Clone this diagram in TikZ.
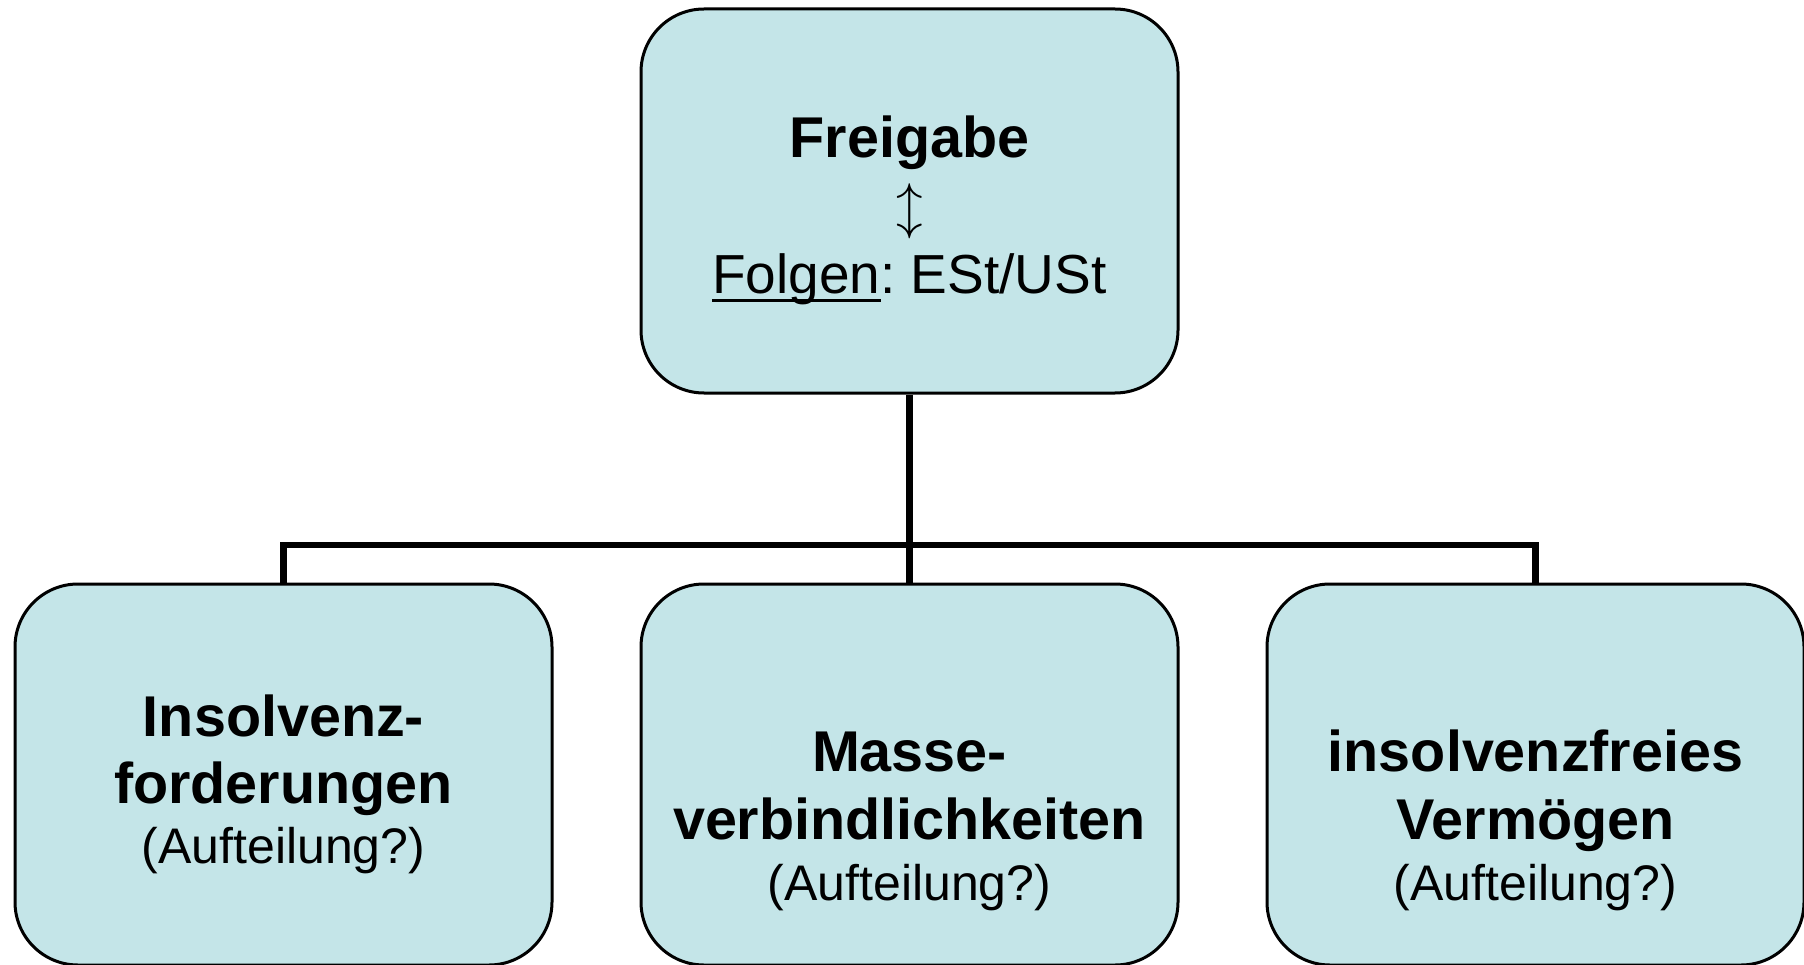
\documentclass[tikz,border=0pt]{standalone}
\usepackage{fontspec}
\usepackage{graphicx}
\setmainfont{Liberation Sans}
\frenchspacing
\definecolor{boxfill}{RGB}{196,229,232}
% underline drawn as a rule a little below the baseline, crossing descenders
\newcommand\ulword[1]{\setbox0\hbox{#1}\rlap{\rule[-8.5pt]{\wd0}{3pt}}\box0}
\tikzset{
  card/.style={draw=black, line width=3pt, fill=boxfill, rounded corners=63pt,
    rectangle, inner sep=0pt, minimum width=537pt},
  bus/.style={draw=black, line width=6.5pt},
  head/.style={anchor=base, inner sep=0pt, font=\fontsize{57.5}{67}\selectfont\bfseries},
  plain/.style={anchor=base, inner sep=0pt, font=\fontsize{50}{60}\selectfont},
  topplain/.style={anchor=base, inner sep=0pt, font=\fontsize{55}{64}\selectfont},
}
\begin{document}
\begin{tikzpicture}[x=1pt, y=-1pt]
\useasboundingbox (0,0) rectangle (1804,965);

% boxes
\node[card, minimum height=384pt] (top) at (909.5,201) {};
\node[card, minimum height=381pt] (left) at (283.5,774.5) {};
\node[card, minimum height=381pt] (mid) at (909.5,774.5) {};
\node[card, minimum height=381pt] (right) at (1535.5,774.5) {};

% connectors
\coordinate (junction) at (909.5,545);
\draw[bus] (top.south) -- (mid.north);
\draw[bus] (left.north) |- (junction) -| (right.north);

% top box text
\node[head] (t1) at (909.5,158) {Freigabe};
\node[anchor=center, inner sep=0pt] (t2) at (909.5,211)
  {\resizebox*{!}{53pt}{$\updownarrow$}};
\node[topplain] (t3) at (909.5,294) {\ulword{Folgen}: ESt/USt};

% left box text
\node[head] (l1) at (283.5,736) {Insolvenz-};
\node[head] (l2) at (283.5,803) {forderungen};
\node[plain] (l3) at (283.5,863) {(Aufteilung?)};

% middle box text
\node[head] (m1) at (909.5,771) {Masse-};
\node[head] (m2) at (909.5,839) {verbindlichkeiten};
\node[plain] (m3) at (909.5,900) {(Aufteilung?)};

% right box text
\node[head] (r1) at (1535.5,771) {insolvenzfreies};
\node[head] (r2) at (1535.5,839) {Vermögen};
\node[plain] (r3) at (1535.5,900) {(Aufteilung?)};
\end{tikzpicture}
\end{document}
